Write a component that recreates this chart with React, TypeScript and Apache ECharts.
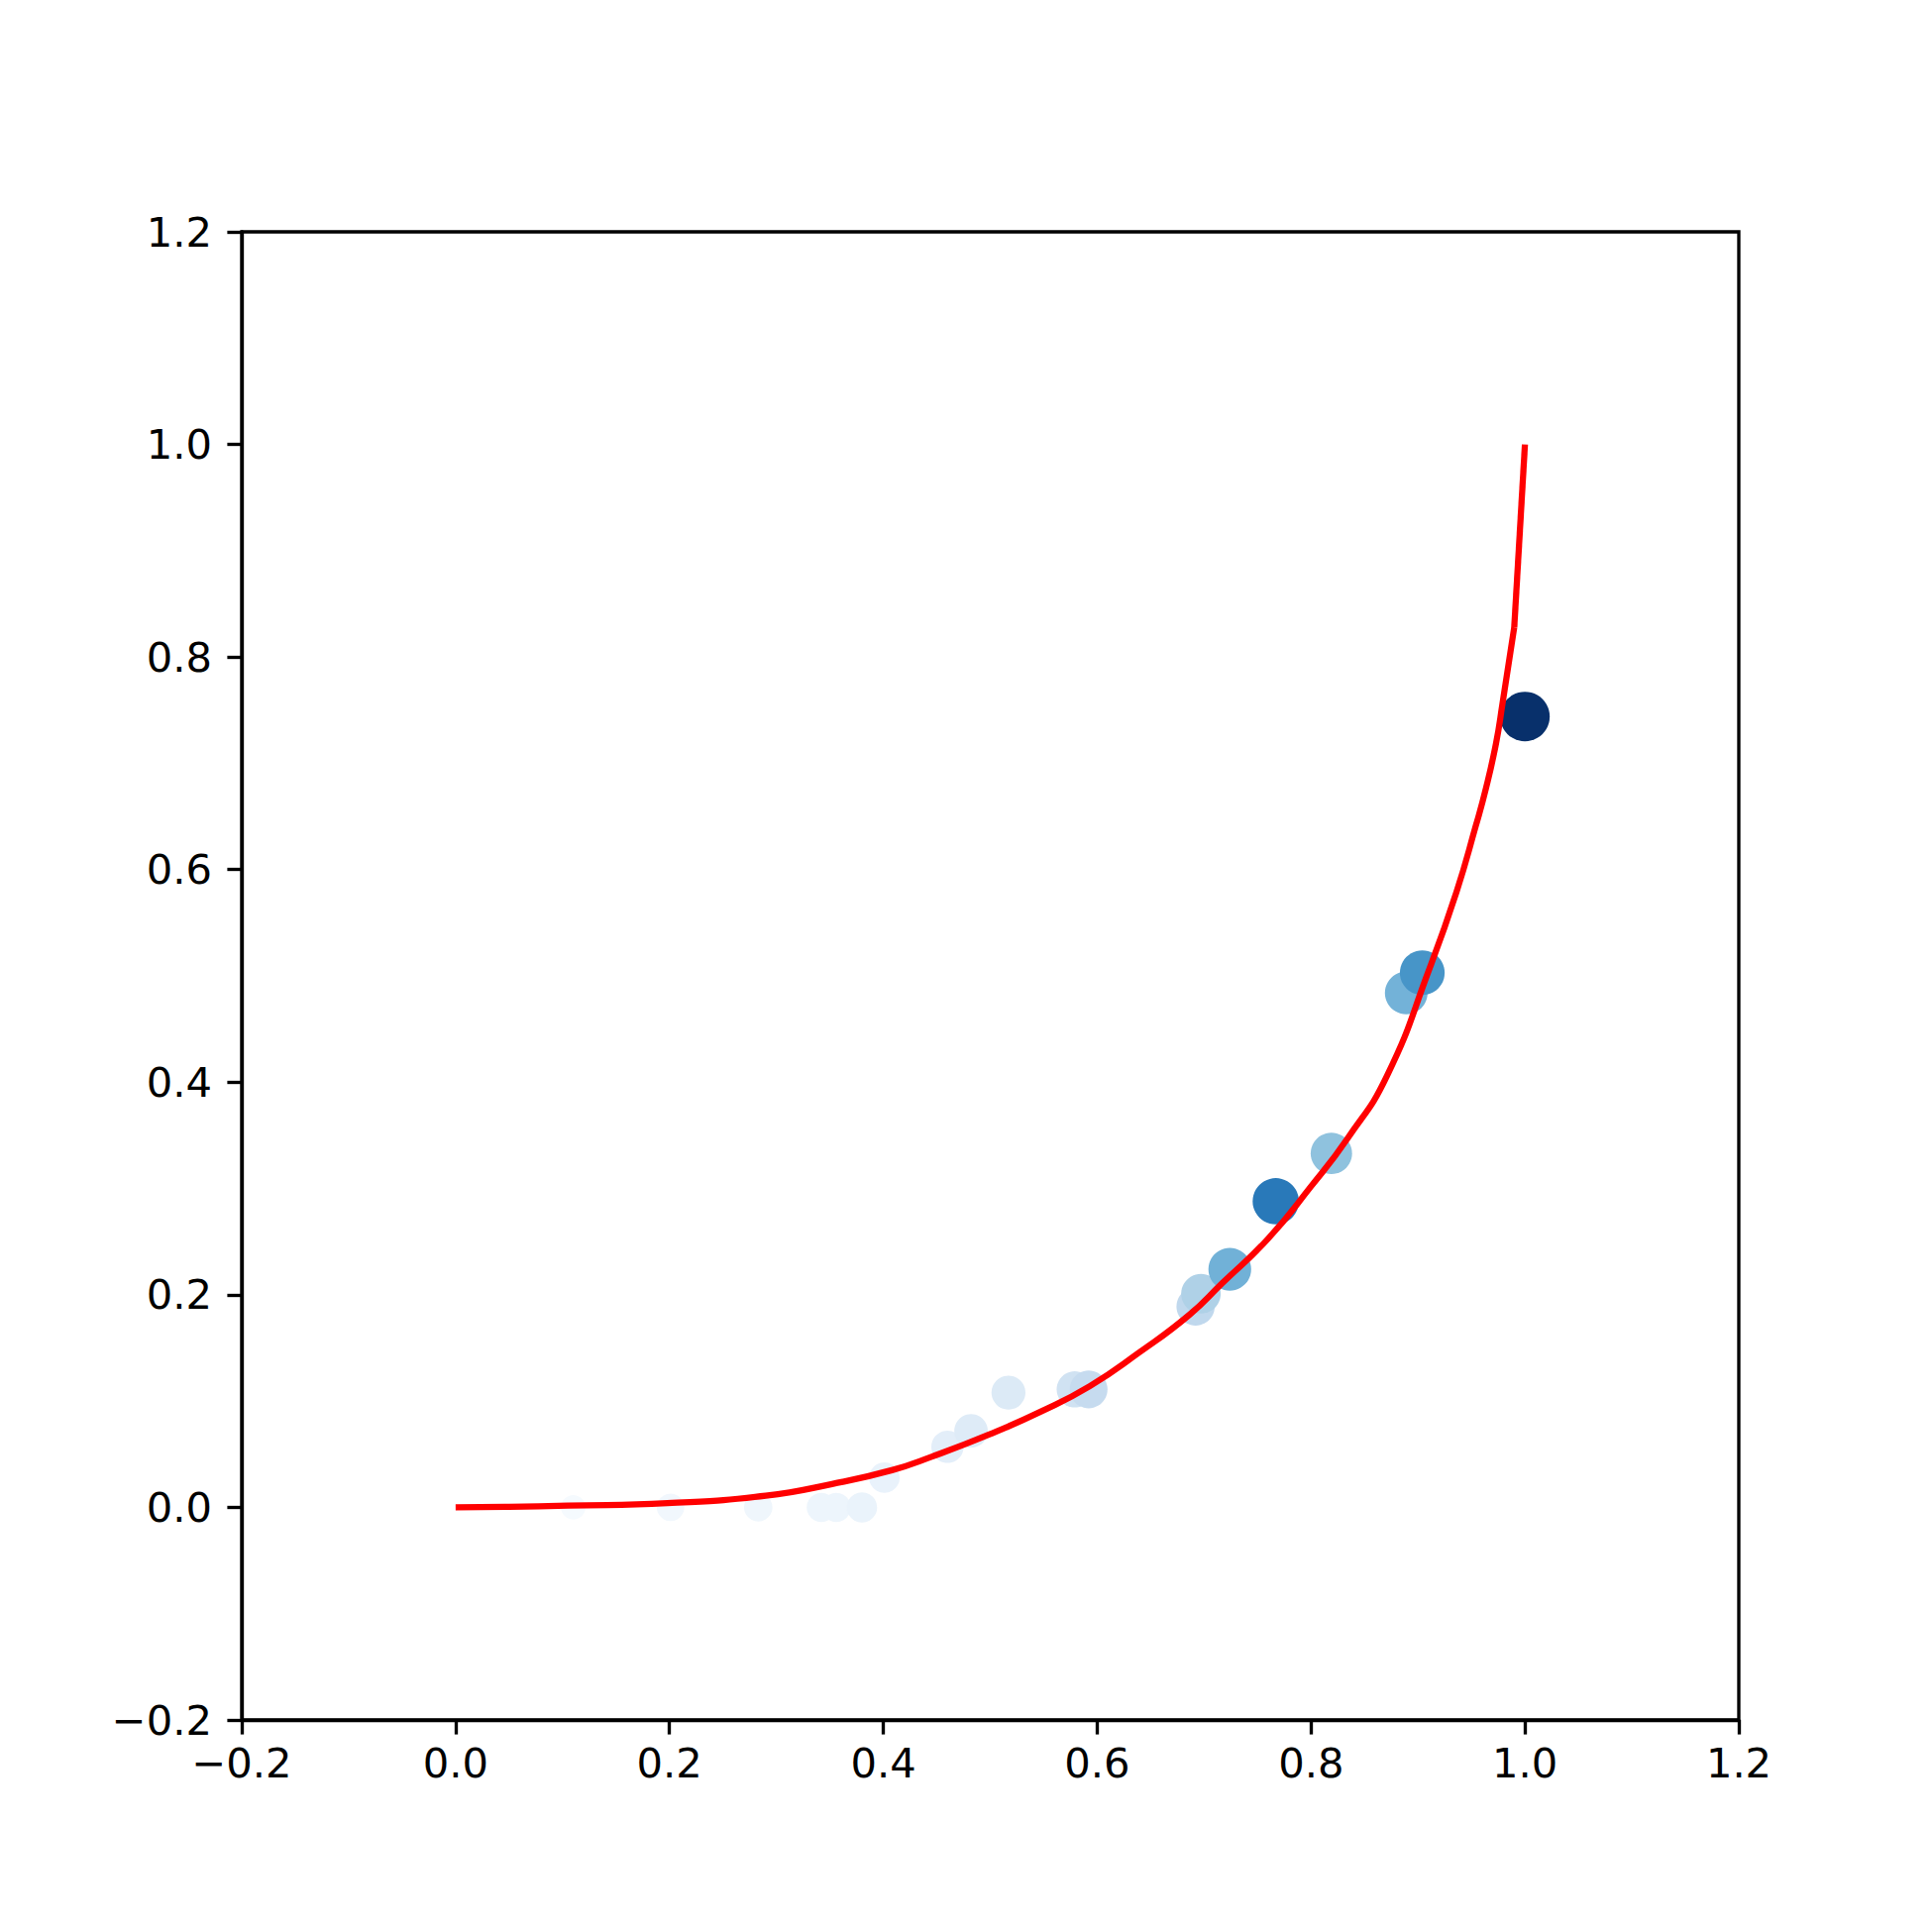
import React, { useEffect, useRef } from "react";
import * as echarts from "echarts";

// Scatter points (x, y) and their colour/size weight (0..1)
const pointX = [0.110, 0.201, 0.283, 0.342, 0.356, 0.380, 0.401, 0.460, 0.482, 0.517, 0.579, 0.592, 0.692, 0.697, 0.724, 0.767, 0.819, 0.889, 0.904, 1.0];
const pointY = [0.0, 0.0, 0.0, 0.0, 0.0, 0.0, 0.028, 0.057, 0.072, 0.108, 0.111, 0.111, 0.189, 0.201, 0.224, 0.288, 0.333, 0.484, 0.503, 0.744];
const pointWeight = [0.01, 0.03, 0.04, 0.05, 0.05, 0.065, 0.07, 0.1, 0.125, 0.135, 0.198, 0.25, 0.269, 0.322, 0.485, 0.72, 0.411, 0.48, 0.61, 1.0];

// Red curve (smooth part up to x = 0.99, then a straight final step)
const curveX = [0, 0.05, 0.105, 0.198, 0.29, 0.352, 0.408, 0.445, 0.5, 0.547, 0.593, 0.639, 0.686, 0.717, 0.76, 0.8, 0.834, 0.871, 0.911, 0.936, 0.954, 0.9637, 0.973, 0.979, 0.99];
const curveY = [0, 0.0005, 0.0016, 0.004, 0.011, 0.022, 0.035, 0.0476, 0.069, 0.090, 0.114, 0.1455, 0.181, 0.211, 0.253, 0.302, 0.347, 0.406, 0.5075, 0.579, 0.641, 0.677, 0.719, 0.756, 0.828];
const tailX = [0.99, 1.0];
const tailY = [0.828, 1.0];

const axisMin = -0.2;
const axisMax = 1.2;
const axisStep = 0.2;

const BLUES = ["#f7fbff", "#deebf7", "#c6dbef", "#9ecae1", "#6baed6", "#4292c6", "#2171b5", "#08519c", "#08306b"];

const fmt = (v: number) => {
  const s = (Math.abs(v) < 1e-9 ? 0 : v).toFixed(1);
  return s.replace("-", "\u2212");
};

export default function App() {
  const ref = useRef<HTMLDivElement>(null);
  useEffect(() => {
    if (!ref.current) return;
    const chart = echarts.init(ref.current, null, { renderer: "svg" });
    const scatterData = pointX.map((x, i) => [x, pointY[i], pointWeight[i]]);
    const lineData = curveX.map((x, i) => [x, curveY[i]]);
    const tailData = tailX.map((x, i) => [x, tailY[i]]);
    const axisCommon = {
      type: "value" as const,
      min: axisMin,
      max: axisMax,
      interval: axisStep,
      splitLine: { show: false },
      axisLine: { show: true, onZero: false, lineStyle: { color: "#000", width: 3.33 } },
      axisTick: { show: true, inside: false, length: 14.6, lineStyle: { color: "#000", width: 3.33 } },
      axisLabel: {
        color: "#000",
        fontFamily: "DejaVu Sans",
        fontSize: 41.67,
        formatter: fmt,
        showMinLabel: true,
        showMaxLabel: true,
      },
    };
    const redLine = { color: "#ff0000", width: 6.25, cap: "butt" as const, join: "round" as const };
    chart.setOption({
      animation: false,
      backgroundColor: "#fff",
      grid: {
        left: 244,
        top: 234,
        width: 1511,
        height: 1502,
        show: true,
        borderColor: "#000",
        borderWidth: 3.33,
        containLabel: false,
      },
      xAxis: { ...axisCommon, axisLabel: { ...axisCommon.axisLabel, margin: 22 } },
      yAxis: { ...axisCommon, axisLabel: { ...axisCommon.axisLabel, margin: 30 } },
      visualMap: {
        show: false,
        type: "continuous",
        seriesIndex: 0,
        dimension: 2,
        min: 0,
        max: 1,
        inRange: { color: BLUES },
      },
      series: [
        {
          type: "scatter",
          data: scatterData,
          symbol: "circle",
          symbolSize: (val: number[]) => Math.sqrt(400 + 2100 * Math.sqrt(val[2])),
          itemStyle: { opacity: 1 },
          emphasis: { disabled: true },
        },
        {
          type: "line",
          data: lineData,
          showSymbol: false,
          symbol: "none",
          smooth: 0.5,
          lineStyle: redLine,
          emphasis: { disabled: true },
        },
        {
          type: "line",
          data: tailData,
          showSymbol: false,
          symbol: "none",
          lineStyle: redLine,
          emphasis: { disabled: true },
        },
      ],
    });
    return () => chart.dispose();
  }, []);
  return (
    <div
      ref={ref}
      style={{ position: "absolute", left: 0, top: 0, width: 1950, height: 1950 }}
    />
  );
}
